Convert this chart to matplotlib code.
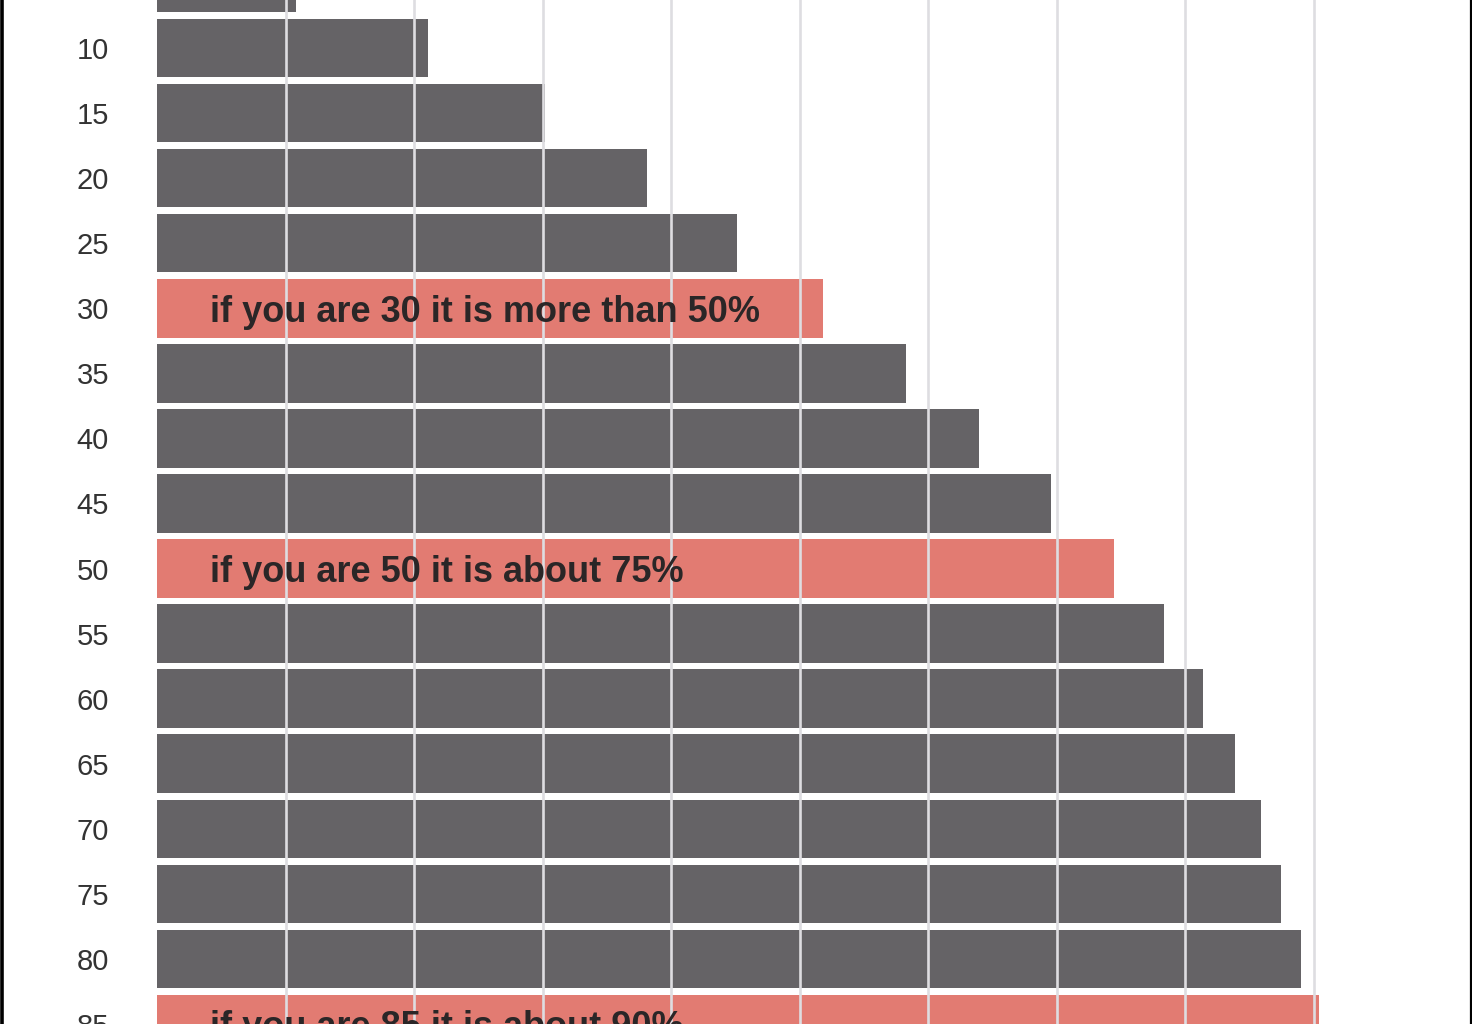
import matplotlib
matplotlib.use("Agg")
import matplotlib.pyplot as plt
from matplotlib.lines import Line2D

# ---- data ----
ages = [5, 10, 15, 20, 25, 30, 35, 40, 45, 50, 55, 60, 65, 70, 75, 80, 85]
percent = [10.8, 21.1, 30.2, 38.1, 45.1, 51.8, 58.3, 64.0, 69.6, 74.5,
           78.4, 81.4, 83.9, 85.9, 87.5, 89.0, 90.4]
highlight_ages = [30, 50, 85]
highlight_texts = ["if you are 30 it is more than 50%",
                   "if you are 50 it is about 75%",
                   "if you are 85 it is about 90%"]
tick_ages = [10, 15, 20, 25, 30, 35, 40, 45, 50, 55, 60, 65, 70, 75, 80, 85]
grid_values = [10, 20, 30, 40, 50, 60, 70, 80, 90]

DARK = "#656366"
PINK = "#e27b72"
GRID = "#dedde1"

fig = plt.figure(figsize=(14.72, 10.24), dpi=100)
ax = fig.add_axes([157 / 1472, 0, (1472 - 157) / 1472, 1])

colors = [PINK if a in highlight_ages else DARK for a in ages]
ax.barh(ages, percent, height=4.5, color=colors, zorder=1)

ax.set_xlim(0, (1472 - 157) / 12.85)
ax.set_ylim(84.23, 6.31)

ax.set_xticks(grid_values)
ax.set_xticklabels([])
ax.grid(axis="x", color=GRID, linewidth=1.9, zorder=2)
ax.set_axisbelow(False)
ax.tick_params(axis="x", length=0)

ax.set_yticks(tick_ages)
ax.set_yticklabels([str(a) for a in tick_ages], fontsize=21,
                   family="Liberation Sans", color="#333333")
ax.tick_params(axis="y", length=0, pad=34.5)

for s in ax.spines.values():
    s.set_visible(False)

for a, t in zip(highlight_ages, highlight_texts):
    ax.text(4.1, a + 1.03, t, ha="left", va="baseline", fontsize=26,
            family="Liberation Sans", fontweight="bold", color="#2a2627",
            zorder=3)

# dark frame edges at the left and right of the picture
fig.add_artist(Line2D([0.0012, 0.0012], [0, 1], transform=fig.transFigure,
                      color="black", linewidth=2.6))
fig.add_artist(Line2D([0.9993, 0.9993], [0, 1], transform=fig.transFigure,
                      color="black", linewidth=1.6))

fig.savefig("out.png", dpi=100)
